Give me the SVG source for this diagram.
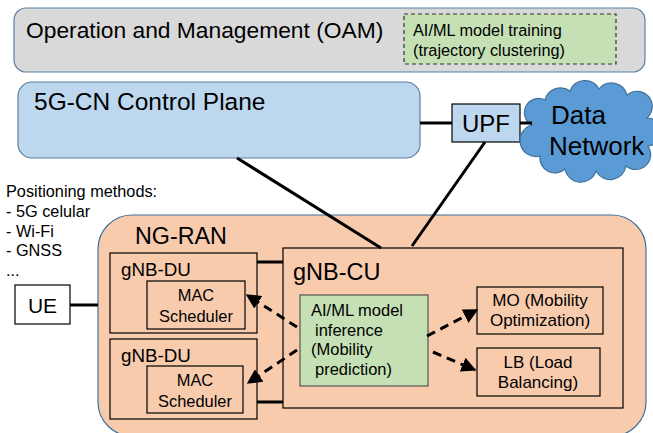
<svg xmlns="http://www.w3.org/2000/svg" width="653" height="433" viewBox="0 0 653 433">
<defs>
<style>
text{font-family:"Liberation Sans",Arial,sans-serif;fill:#000}
.box{stroke:#000;stroke-width:1.2}
.peach{fill:#f8cbad}
.line{stroke:#000;stroke-width:3;fill:none}
.dash{stroke:#000;stroke-width:3;fill:none;stroke-dasharray:9 6;marker-end:url(#ah)}
</style>
<marker id="ah" viewBox="0 0 10 10" refX="9" refY="5" markerWidth="5" markerHeight="5" orient="auto" markerUnits="strokeWidth">
<path d="M0,0 L10,5 L0,10 Z" fill="#000"/>
</marker>
</defs>
<rect width="653" height="433" fill="#fff"/>
<g id="oam">
<rect x="14" y="8" width="631" height="64" rx="12" fill="#d9d9d9" stroke="#5f7fa3" stroke-width="1.2"/>
<text x="26" y="38" font-size="22.8">Operation and Management (OAM)</text>
</g>
<g id="training">
<rect x="404" y="14" width="212" height="50" fill="#c5e0b4" stroke="#333" stroke-width="1.2" stroke-dasharray="4 3"/>
<text x="413" y="36" font-size="16.3">AI/ML model training</text>
<text x="413" y="56" font-size="16.3">(trajectory clustering)</text>
</g>
<g id="cn">
<rect x="18" y="82" width="402" height="76" rx="14" fill="#bdd7ee" stroke="#5f7fa3" stroke-width="1.2"/>
<text x="34" y="110" font-size="24.5">5G-CN Control Plane</text>
</g>
<g id="upf">
<rect x="452" y="104" width="68" height="38" fill="#bdd7ee" class="box"/>
<text x="486" y="132" font-size="24" text-anchor="middle">UPF</text>
</g>
<g id="dn">
<path d="M532,125 A14,14 0 0 1 545,100 A16,16 0 0 1 570,91 A16,16 0 0 1 599,89 A16,16 0 0 1 627,95 A15,15 0 0 1 647,118 A14,14 0 0 1 648,146 A15,15 0 0 1 626,166 A16,16 0 0 1 596,171 A16,16 0 0 1 565,169 A15,15 0 0 1 540,156 A16,16 0 0 1 532,125 Z" fill="#5b9bd5" stroke="#41719c" stroke-width="1.2"/>
<text x="551" y="124" font-size="26">Data</text>
<text x="549" y="155" font-size="26">Network</text>
</g>
<g id="positioning">
<text x="6" y="197" font-size="16.3">Positioning methods:</text>
<text x="6" y="217" font-size="16.3">- 5G celular</text>
<text x="6" y="237" font-size="16.3">- Wi-Fi</text>
<text x="6" y="256" font-size="16.3">- GNSS</text>
<text x="6" y="276" font-size="16.3">...</text>
</g>
<g id="ue">
<rect x="15" y="285" width="55" height="39" fill="#fff" class="box"/>
<text x="42.5" y="313" font-size="21" text-anchor="middle">UE</text>
</g>
<g id="ngran">
<rect x="98" y="215" width="548" height="221" rx="34" class="peach" stroke="#41719c" stroke-width="1.2"/>
<text x="135" y="244" font-size="23.3">NG-RAN</text>
</g>
<g id="du1">
<rect x="110" y="253" width="147" height="80" class="peach box"/>
<text x="121" y="276" font-size="18.8">gNB-DU</text>
<rect x="147" y="281" width="98" height="48" class="peach box"/>
<text x="196" y="301" font-size="16.4" text-anchor="middle">MAC</text>
<text x="196" y="322" font-size="16.4" text-anchor="middle">Scheduler</text>
</g>
<g id="du2">
<rect x="110" y="339" width="147" height="80" class="peach box"/>
<text x="121" y="362" font-size="18.8">gNB-DU</text>
<rect x="147" y="366" width="96" height="47" class="peach box"/>
<text x="195" y="386" font-size="16.4" text-anchor="middle">MAC</text>
<text x="195" y="407" font-size="16.4" text-anchor="middle">Scheduler</text>
</g>
<g id="cu">
<rect x="283" y="248" width="340" height="160" class="peach box"/>
<text x="293" y="280" font-size="23.5">gNB-CU</text>
</g>
<g id="inference">
<rect x="300" y="295" width="128" height="91" fill="#c5e0b4" stroke="#555" stroke-width="1.2"/>
<text x="311" y="316" font-size="16.5">AI/ML model</text>
<text x="315" y="336" font-size="16.5">inference</text>
<text x="311" y="355" font-size="16.5">(Mobility</text>
<text x="315" y="375" font-size="16.5">prediction)</text>
</g>
<g id="mo">
<rect x="477" y="287" width="126" height="47" class="peach box"/>
<text x="540" y="306" font-size="17" text-anchor="middle">MO (Mobility</text>
<text x="540" y="326" font-size="17" text-anchor="middle">Optimization)</text>
</g>
<g id="lb">
<rect x="477" y="348" width="123" height="48" class="peach box"/>
<text x="538" y="368" font-size="17" text-anchor="middle">LB (Load</text>
<text x="538" y="388" font-size="17" text-anchor="middle">Balancing)</text>
</g>
<g id="connectors">
<line class="line" x1="420" y1="123" x2="452" y2="123"/>
<line class="line" x1="520" y1="123" x2="532" y2="123"/>
<line class="line" x1="237" y1="158" x2="381" y2="248"/>
<line class="line" x1="485" y1="142" x2="412" y2="246"/>
<line class="line" x1="70" y1="305" x2="98" y2="305"/>
<line class="line" x1="257" y1="262" x2="283" y2="262"/>
<line class="line" x1="257" y1="402" x2="283" y2="402"/>
<line class="dash" x1="297" y1="327" x2="247" y2="295"/>
<line class="dash" x1="297" y1="350" x2="248" y2="383"/>
<line class="dash" x1="427" y1="336" x2="477" y2="310"/>
<line class="dash" x1="433" y1="352" x2="475" y2="370"/>
</g>
</svg>
